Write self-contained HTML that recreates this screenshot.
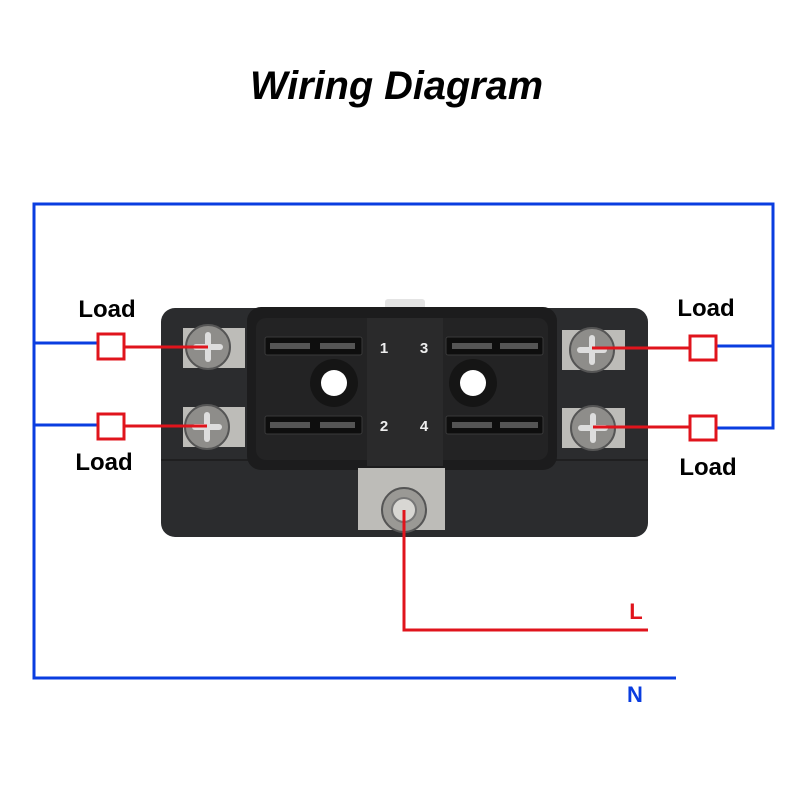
<!DOCTYPE html>
<html><head><meta charset="utf-8"><style>html,body{margin:0;padding:0;background:#fff}svg{display:block}</style></head>
<body>
<svg width="800" height="800" viewBox="0 0 800 800" xmlns="http://www.w3.org/2000/svg" font-family="Liberation Sans, sans-serif">
<text x="250" y="99" font-size="40" font-weight="bold" font-style="italic" textLength="293" lengthAdjust="spacingAndGlyphs">Wiring Diagram</text>
<!-- device -->
<rect x="385" y="299" width="40" height="18" rx="3" fill="#e4e4e4"/>
<rect x="161" y="308" width="487" height="229" rx="14" fill="#2b2c2e"/>
<line x1="161" y1="460" x2="648" y2="460" stroke="#1f1f20" stroke-width="2"/>
<rect x="247" y="307" width="310" height="163" rx="14" fill="#1c1c1d"/>
<rect x="256" y="318" width="292" height="142" rx="10" fill="#232324"/>
<rect x="367" y="318" width="76" height="148" fill="#2a2a2b"/>
<!-- slots -->
<g fill="#0e0e0e" stroke="#3a3a3a" stroke-width="1">
<rect x="265" y="337" width="97" height="18" rx="2"/>
<rect x="265" y="416" width="97" height="18" rx="2"/>
<rect x="446" y="337" width="97" height="18" rx="2"/>
<rect x="446" y="416" width="97" height="18" rx="2"/>
</g>
<g fill="#555" >
<rect x="270" y="343" width="40" height="6"/><rect x="320" y="343" width="35" height="6"/>
<rect x="270" y="422" width="40" height="6"/><rect x="320" y="422" width="35" height="6"/>
<rect x="452" y="343" width="40" height="6"/><rect x="500" y="343" width="38" height="6"/>
<rect x="452" y="422" width="40" height="6"/><rect x="500" y="422" width="38" height="6"/>
</g>
<circle cx="334" cy="383" r="24" fill="#151515"/><circle cx="334" cy="383" r="13" fill="#fff"/>
<circle cx="473" cy="383" r="24" fill="#151515"/><circle cx="473" cy="383" r="13" fill="#fff"/>
<g fill="#eee" font-size="15" font-weight="bold" text-anchor="middle">
<text x="384" y="353">1</text><text x="424" y="353">3</text>
<text x="384" y="431">2</text><text x="424" y="431">4</text>
</g>
<!-- tabs -->
<g fill="#bdbcb8">
<rect x="183" y="328" width="62" height="40"/><rect x="183" y="407" width="62" height="40"/>
<rect x="562" y="330" width="63" height="40"/><rect x="562" y="408" width="63" height="40"/>
<rect x="358" y="468" width="87" height="62"/>
</g>
<g fill="#8e8d8a" stroke="#555" stroke-width="2">
<circle cx="208" cy="347" r="22"/><circle cx="207" cy="427" r="22"/>
<circle cx="592" cy="350" r="22"/><circle cx="593" cy="428" r="22"/>
</g>
<g stroke="#ddd" stroke-width="6" stroke-linecap="round">
<line x1="196" y1="347" x2="220" y2="347"/><line x1="208" y1="335" x2="208" y2="359"/>
<line x1="195" y1="427" x2="219" y2="427"/><line x1="207" y1="415" x2="207" y2="439"/>
<line x1="580" y1="350" x2="604" y2="350"/><line x1="592" y1="338" x2="592" y2="362"/>
<line x1="581" y1="428" x2="605" y2="428"/><line x1="593" y1="416" x2="593" y2="440"/>
</g>
<circle cx="404" cy="510" r="22" fill="#9a9995" stroke="#555" stroke-width="2"/>
<circle cx="404" cy="510" r="12" fill="#d8d7d3" stroke="#777" stroke-width="2"/>
<!-- blue wires -->
<g stroke="#0a3de0" stroke-width="3" fill="none">
<polyline points="676,678 34,678 34,204 773,204 773,428 716,428"/>
<line x1="773" y1="346" x2="716" y2="346"/>
<line x1="34" y1="343" x2="97" y2="343"/>
<line x1="34" y1="425" x2="97" y2="425"/>
</g>
<!-- red wires -->
<g stroke="#e0141c" stroke-width="3" fill="none">
<line x1="124" y1="347" x2="208" y2="347"/>
<line x1="124" y1="426" x2="207" y2="426"/>
<line x1="592" y1="348" x2="689" y2="348"/>
<line x1="593" y1="427" x2="689" y2="427"/>
<polyline points="404,510 404,630 648,630"/>
<rect x="98" y="334" width="26" height="25" fill="#fff"/>
<rect x="98" y="414" width="26" height="25" fill="#fff"/>
<rect x="690" y="336" width="26" height="24" fill="#fff"/>
<rect x="690" y="416" width="26" height="24" fill="#fff"/>
</g>
<g font-size="24" font-weight="bold" text-anchor="middle">
<text x="107" y="317">Load</text><text x="104" y="470">Load</text>
<text x="706" y="316">Load</text><text x="708" y="475">Load</text>
</g>
<text x="636" y="619" font-size="22" font-weight="bold" fill="#e0141c" text-anchor="middle">L</text>
<text x="635" y="702" font-size="22" font-weight="bold" fill="#0a3de0" text-anchor="middle">N</text>
</svg>
</body></html>
